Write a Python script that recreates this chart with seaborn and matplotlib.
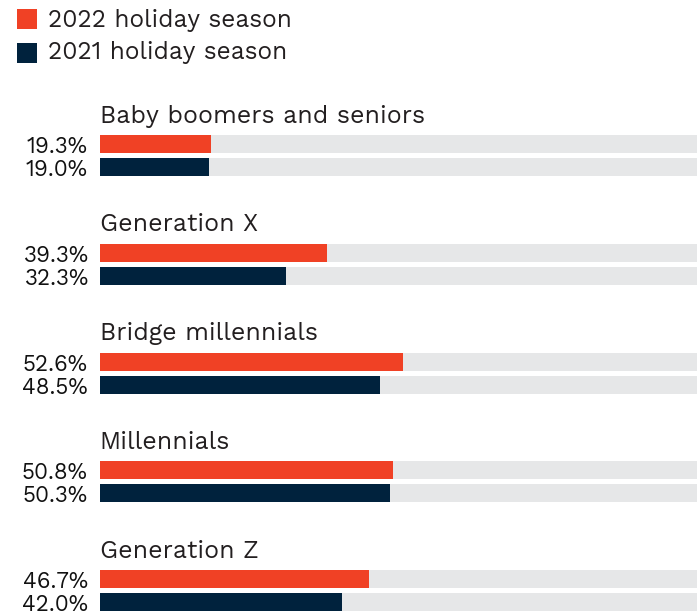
import matplotlib
matplotlib.use("Agg")
import matplotlib.pyplot as plt
import seaborn as sns
import pandas as pd
from matplotlib.patches import Rectangle

# ---- data ----
groups = ["Baby boomers and seniors", "Generation X", "Bridge millennials",
          "Millennials", "Generation Z"]
season_2022 = [19.3, 39.3, 52.6, 50.8, 46.7]
season_2021 = [19.0, 32.3, 48.5, 50.3, 42.0]
series_names = ["2022 holiday season", "2021 holiday season"]

# ---- style ----
colors = ["#F04125", "#00223D"]
track_color = "#E6E7E8"
text_color = "#231F20"
title_font = "Work Sans"
label_font = "Work Sans"

sns.set_style("white")

W, H = 697, 615
fig = plt.figure(figsize=(W / 100, H / 100), dpi=100)

def pt(px):
    return px * 72 / 100

x0 = 99.5          # left edge of bars (px)
xmax = 103.4       # data extent of the full track
pitch = 108.75     # vertical distance between groups (px)
bar_h = 18
gap = 5
unit = bar_h + gap
rel_w = bar_h / unit

for i, g in enumerate(groups):
    top = 135 + pitch * i
    height = 2 * bar_h + gap
    bottom = top + height
    ax = fig.add_axes([x0 / W, 1 - bottom / H, 1 - x0 / W, height / H])
    df = pd.DataFrame({"series": series_names,
                       "value": [season_2022[i], season_2021[i]]})
    sns.barplot(data=df, y="series", x="value", hue="series",
                palette=colors, width=rel_w, orient="h", ax=ax,
                legend=False, saturation=1, linewidth=0, zorder=2)
    ax.barh([0, 1], [xmax, xmax], height=rel_w, color=track_color,
            linewidth=0, zorder=0)
    ax.set_xlim(0, xmax)
    ax.set_ylim(1 + rel_w / 2, -rel_w / 2)
    ax.axis("off")

    # group title
    fig.text(x0 / W, 1 - (top - 12.5) / H, g, ha="left", va="baseline",
             fontsize=pt(24.9), family=title_font, color=text_color)
    # value labels
    for j, v in enumerate(df["value"]):
        ax.annotate(f"{v:.1f}%", xy=(0, j + rel_w / 2), xycoords=("axes fraction", "data"),
                    xytext=(-11.5, 0), textcoords="offset pixels",
                    ha="right", va="baseline", fontsize=pt(22.5),
                    family=label_font, color="#111111")

# legend
for k, (name, c) in enumerate(zip(series_names, colors)):
    ytop = 9.3 + 34 * k
    fig.patches.append(Rectangle((17 / W, 1 - (ytop + 19.5) / H), 19.5 / W, 19.5 / H,
                                 transform=fig.transFigure, facecolor=c,
                                 edgecolor="none"))
    fig.text(48 / W, 1 - (27.3 + 32 * k) / H, name, ha="left", va="baseline",
             fontsize=pt(24.5), family=title_font, color=text_color)

fig.savefig("out.png", dpi=100)
